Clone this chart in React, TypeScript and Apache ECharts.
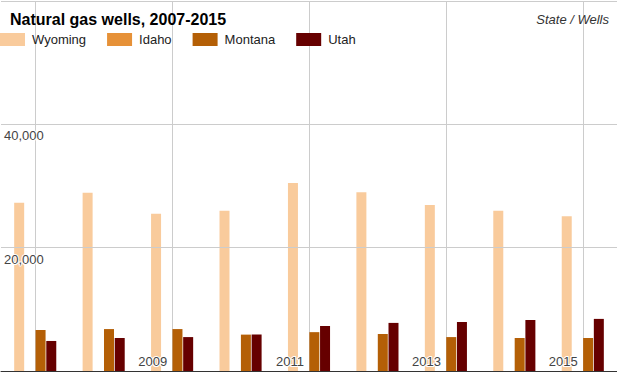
import React, { useEffect, useRef } from "react";
import * as echarts from "echarts";

const years = ["2007", "2008", "2009", "2010", "2011", "2012", "2013", "2014", "2015"];
const wyoming = [27300, 28900, 25500, 26000, 30500, 29000, 26900, 26000, 25100];
const idaho = [0, 0, 0, 0, 0, 0, 0, 0, 0];
const montana = [6650, 6800, 6800, 5900, 6300, 6000, 5500, 5350, 5350];
const utah = [4870, 5350, 5500, 5900, 7300, 7800, 7950, 8270, 8450];
const gridYears = ["2007", "2009", "2011", "2013", "2015"];
const yTicks = [0, 20000, 40000, 60000];

const FONT = 'Arial, "Liberation Sans", sans-serif';

export default function App() {
  const ref = useRef<HTMLDivElement>(null);
  useEffect(() => {
    document.body.style.margin = "0";
    const chart = echarts.init(ref.current!, null, { renderer: "svg" });
    const mk = (name: string, data: number[], color: string) => ({
      name,
      type: "bar",
      data,
      barWidth: 10,
      barGap: "7%",
      itemStyle: { color },
      z: 2,
    });
    chart.setOption({
      animation: false,
      textStyle: { fontFamily: FONT },
      title: [
        {
          text: "Natural gas wells, 2007-2015",
          left: 10,
          top: 11,
          padding: 0,
          textStyle: { fontSize: 16, fontWeight: "bold", color: "#000", fontFamily: FONT },
        },
        {
          text: "State / Wells",
          right: 8,
          top: 13,
          padding: 0,
          textStyle: { fontSize: 13, fontStyle: "italic", fontWeight: "normal", color: "#333", fontFamily: FONT },
        },
      ],
      legend: {
        left: 0,
        top: 33,
        padding: 0,
        itemWidth: 25,
        itemHeight: 13,
        itemGap: 21,
        icon: "rect",
        z: 6,
        textStyle: { fontSize: 13, color: "#222", fontFamily: FONT, padding: [0, 0, 0, 2] },
        data: ["Wyoming", "Idaho", "Montana", "Utah"],
      },
      grid: { left: 1, right: 0, top: 1, bottom: 2, containLabel: false },
      xAxis: {
        type: "category",
        data: years,
        axisLine: { show: true, lineStyle: { color: "#333", width: 1 } },
        axisTick: { show: false },
        splitLine: { show: false },
        axisLabel: {
          inside: true,
          interval: (index: number) => index % 2 === 0 && index > 0,
          align: "right",
          padding: [0, 5, 0, 0],
          margin: 3,
          fontSize: 13,
          color: "#444",
          fontFamily: FONT,
          textBorderColor: "#fff",
          textBorderWidth: 2,
        },
        z: 10,
      },
      yAxis: {
        type: "value",
        min: yTicks[0],
        max: yTicks[yTicks.length - 1],
        interval: yTicks[1] - yTicks[0],
        axisLine: { show: false },
        axisTick: { show: false },
        splitLine: { show: true, lineStyle: { color: "#ccc", width: 1 } },
        axisLabel: {
          inside: true,
          margin: 3,
          verticalAlign: "top",
          padding: [5, 0, 0, 0],
          fontSize: 13,
          color: "#444",
          fontFamily: FONT,
          textBorderColor: "#fff",
          textBorderWidth: 2,
          formatter: (v: number) =>
            v === yTicks[0] || v === yTicks[yTicks.length - 1] ? "" : v.toLocaleString("en-US"),
        },
        z: 10,
      },
      series: [
        {
          name: "grid",
          type: "line",
          data: years.map(() => null),
          symbol: "none",
          z: 1,
          silent: true,
          markLine: {
            silent: true,
            z: 1,
            symbol: ["none", "none"],
            label: { show: false },
            lineStyle: { color: "#ccc", type: "solid", width: 1 },
            data: gridYears.map((y) => ({ xAxis: y })),
          },
        },
        mk("Wyoming", wyoming, "#f9cb9c"),
        mk("Idaho", idaho, "#e69138"),
        mk("Montana", montana, "#b45f06"),
        mk("Utah", utah, "#660000"),
      ],
    });
    return () => chart.dispose();
  }, []);
  return (
    <div
      ref={ref}
      style={{ position: "absolute", left: 0, top: 0, width: 617, height: 373 }}
    />
  );
}
